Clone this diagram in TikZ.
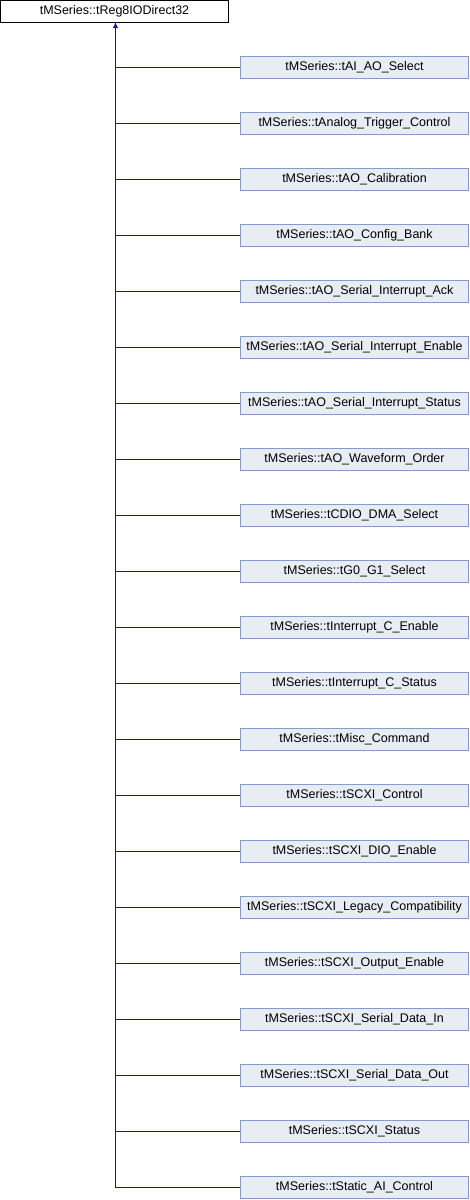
\documentclass[tikz,border=0pt]{standalone}
\usepackage{fontspec}
\setmainfont{Liberation Sans}
\usetikzlibrary{arrows.meta}
\definecolor{edgeblue}{HTML}{1A1A90}
\definecolor{boxfill}{HTML}{E8ECF4}
\definecolor{boxdraw}{HTML}{849CC8}
\begin{document}
\begin{tikzpicture}[x=1pt,y=1pt,
  topcls/.style={draw=black, fill=white, line width=1pt, inner sep=0pt,
    minimum width=228pt, minimum height=22pt, font=\fontsize{12.5pt}{14pt}\selectfont},
  subcls/.style={draw=boxdraw, fill=boxfill, line width=1pt, inner sep=0pt,
    minimum width=228pt, minimum height=22pt, font=\fontsize{12.5pt}{14pt}\selectfont},
  edge/.style={draw=edgeblue, line width=1pt}]
\useasboundingbox (0,0) rectangle (470,-1200);
\node[topcls] (top) at (114.5,-11.5) {tMSeries::tReg8IODirect32};
\foreach \n [count=\i] in {tAI\_AO\_Select,tAnalog\_Trigger\_Control,tAO\_Calibration,tAO\_Config\_Bank,tAO\_Serial\_Interrupt\_Ack,tAO\_Serial\_Interrupt\_Enable,tAO\_Serial\_Interrupt\_Status,tAO\_Waveform\_Order,tCDIO\_DMA\_Select,tG0\_G1\_Select,tInterrupt\_C\_Enable,tInterrupt\_C\_Status,tMisc\_Command,tSCXI\_Control,tSCXI\_DIO\_Enable,tSCXI\_Legacy\_Compatibility,tSCXI\_Output\_Enable,tSCXI\_Serial\_Data\_In,tSCXI\_Serial\_Data\_Out,tSCXI\_Status,tStatic\_AI\_Control}{
  \node[subcls] (c\i) at (354.5,{-67.5-56*(\i-1)}) {tMSeries::\n};
}
\foreach \i in {1,...,20}{
  \draw[edge] (c\i.west) -| ([xshift=1pt]top.south);
}
\draw[edge, -{Triangle[width=5pt,length=5pt]}] (c21.west) -| ([xshift=1pt]top.south);
\end{tikzpicture}
\end{document}
